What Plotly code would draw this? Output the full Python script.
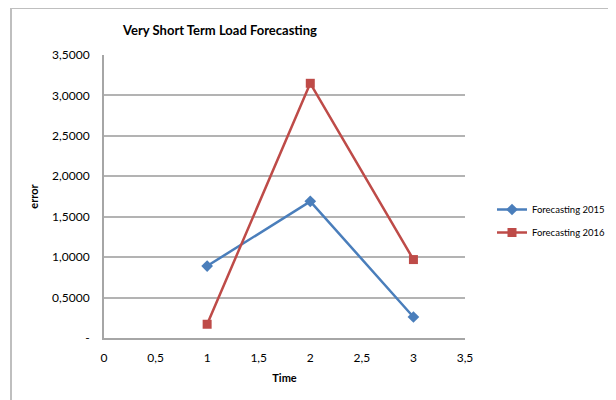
import plotly.graph_objects as go

time = [1, 2, 3]
fc2015 = [0.89, 1.69, 0.26]
fc2016 = [0.17, 3.15, 0.97]
series_names = ["Forecasting 2015", "Forecasting 2016"]
y_tickvals = [0, 0.5, 1.0, 1.5, 2.0, 2.5, 3.0, 3.5]
y_ticktext = ["-", "0,5000", "1,0000", "1,5000", "2,0000", "2,5000", "3,0000", "3,5000"]
x_tickvals = [0, 0.5, 1, 1.5, 2, 2.5, 3, 3.5]
x_ticktext = ["0", "0,5", "1", "1,5", "2", "2,5", "3", "3,5"]

FONT = "Lato, 'Open Sans', sans-serif"

fig = go.Figure()
fig.add_trace(go.Scatter(x=time, y=fc2015, name=series_names[0], mode="lines+markers",
                         legendgroup="a",
                         line=dict(color="#4a7ebb", width=2.5),
                         marker=dict(symbol="diamond", size=9, color="#4a7ebb")))
fig.add_trace(go.Scatter(x=time, y=fc2016, name=series_names[1], mode="lines+markers",
                         legendgroup="b",
                         line=dict(color="#be4b48", width=2.5),
                         marker=dict(symbol="square", size=9, color="#be4b48")))

OFF = 8  # page body margin
W, H = 608, 392
L, T = 104 - OFF, 55 - OFF
pw, ph = 361, 283
R, B = W - L - pw, H - T - ph

def px(xs):  # screen x -> paper
    return (xs - OFF - L) / pw

def py(ys):  # screen y -> paper
    return (T + ph - (ys - OFF)) / ph

fig.update_layout(
    width=W, height=H,
    margin=dict(l=L, r=R, t=T, b=B, autoexpand=False),
    paper_bgcolor="white", plot_bgcolor="white",
    font=dict(family=FONT, size=12, color="#000000"),
    title=dict(text="<b>Very Short Term Load Forecasting</b>", x=(220 - OFF) / W,
               xanchor="center", y=1 - (30 - OFF) / H, yanchor="middle",
               font=dict(size=13, color="#000000"), automargin=False),
    xaxis=dict(range=[0, 3.5], tickvals=x_tickvals, ticktext=x_ticktext, showgrid=False,
               zeroline=False, showline=True, linecolor="#a6a6a6", linewidth=2,
               ticks="", automargin=False, ticklabelstandoff=8,
               tickfont=dict(size=12, color="#000000"),
               title=dict(text="<b>Time</b>", font=dict(size=11, color="#000000"), standoff=10)),
    yaxis=dict(range=[0, 3.5], tickvals=y_tickvals, ticktext=y_ticktext, showgrid=True,
               gridcolor="#b3b3b3", gridwidth=1.5, zeroline=False, showline=True,
               linecolor="#a6a6a6", linewidth=2, ticks="", automargin=False,
               ticklabelstandoff=10, tickfont=dict(size=12, color="#000000"),
               title=dict(text="<b>error</b>", font=dict(size=11, color="#000000"), standoff=11)),
    legend=dict(x=px(492), y=py(221), yanchor="middle", xanchor="left",
                font=dict(size=9.5, color="#000000"), bgcolor="rgba(0,0,0,0)",
                tracegroupgap=4),
    shapes=[
        dict(type="line", xref="paper", yref="paper", x0=px(11), x1=px(11),
             y0=py(H + 20), y1=py(8), line=dict(color="#bfbfbf", width=2)),
        dict(type="line", xref="paper", yref="paper", x0=px(11), x1=px(W + 20),
             y0=py(8), y1=py(8), line=dict(color="#bfbfbf", width=2)),
    ],
)

fig.write_html("out.html")
